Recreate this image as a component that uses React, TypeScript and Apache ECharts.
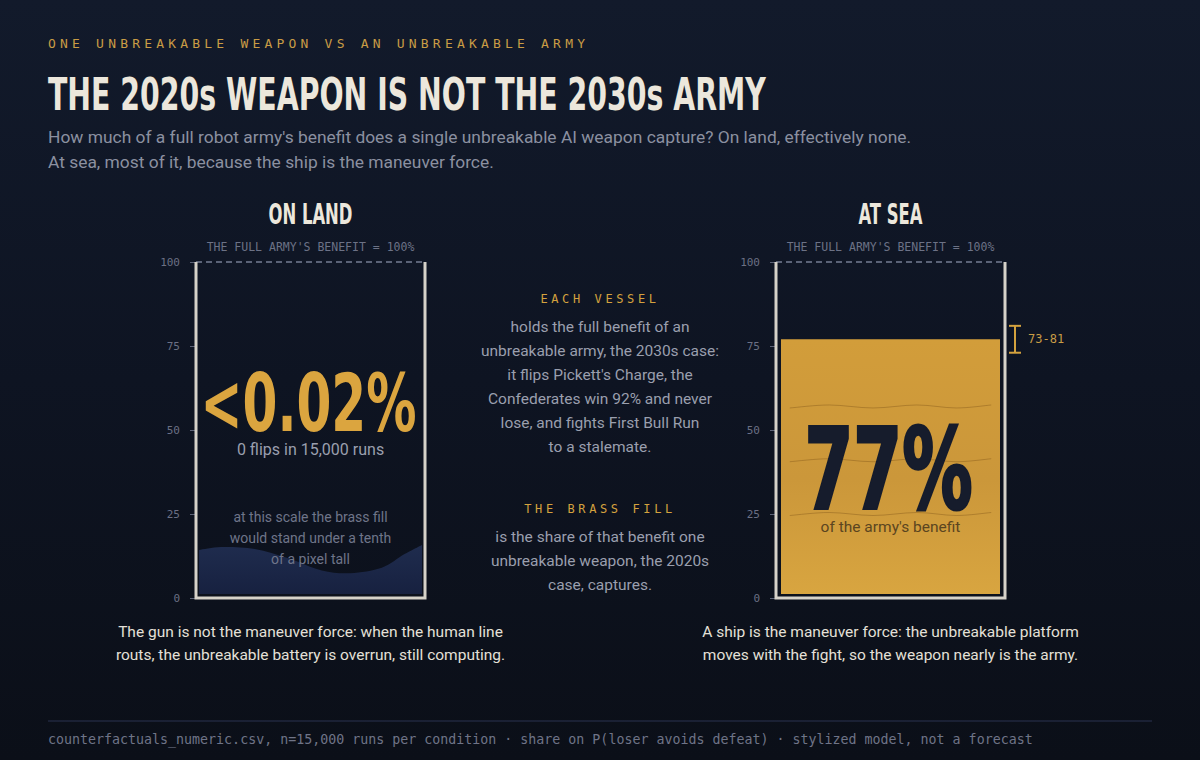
import React, { useEffect, useRef } from 'react';
import * as echarts from 'echarts';

// ---------- content & data ----------
const kicker = 'ONE UNBREAKABLE WEAPON VS AN UNBREAKABLE ARMY';
const headline = 'THE 2020s WEAPON IS NOT THE 2030s ARMY';
const standfirst = [
  "How much of a full robot army's benefit does a single unbreakable AI weapon capture? On land, effectively none.",
  'At sea, most of it, because the ship is the maneuver force.',
];
const theatres = ['ON LAND', 'AT SEA'];
const weaponShare = [0.02, 77]; // % of the full army's benefit captured by one unbreakable weapon
const seaShareRange = [73, 81]; // spread of the sea share across runs
const landFlips = 0;
const runsPerCondition = 15000;
const fullBenefit = 100;
const axisTicks = [0, 25, 50, 75, 100];
const captions = [
  ['The gun is not the maneuver force: when the human line', 'routs, the unbreakable battery is overrun, still computing.'],
  ['A ship is the maneuver force: the unbreakable platform', 'moves with the fight, so the weapon nearly is the army.'],
];
const landNote = ['at this scale the brass fill', 'would stand under a tenth', 'of a pixel tall'];
const vesselHead = 'EACH VESSEL';
const vesselLines = [
  'holds the full benefit of an',
  'unbreakable army, the 2030s case:',
  "it flips Pickett's Charge, the",
  'Confederates win 92% and never',
  'lose, and fights First Bull Run',
  'to a stalemate.',
];
const fillHead = 'THE BRASS FILL';
const fillLines = ['is the share of that benefit one', 'unbreakable weapon, the 2020s', 'case, captures.'];
// dark swell at the foot of the land vessel: [fraction of width, level]
const landSwell: [number, number][] = [
  [0.0, 14.3], [0.1, 15.2], [0.25, 14.6], [0.4, 11.8], [0.55, 8.2], [0.68, 7.4], [0.82, 9.0], [0.92, 13.0], [1.0, 15.8],
];
const seaRipples = [57, 41, 25];
const footnote = `counterfactuals_numeric.csv, n=${runsPerCondition.toLocaleString('en-US')} runs per condition · share on P(loser avoids defeat) · stylized model, not a forecast`;

// ---------- styling ----------
const MONO = "'DejaVu Sans Mono', 'Liberation Mono', monospace";
const SANS = "Roboto, 'Noto Sans', sans-serif";
const DISPLAY = "'Liberation Sans Narrow', 'DejaVu Sans Condensed', Roboto, sans-serif";
const CREAM = '#ece7dc';
const GOLD = '#d4a23e';
const GOLD_TEXT = '#c99c45';
const GREY = '#9a9fae';
const DIM = '#6c7286';

const spacedLabels: Record<string, number> = { [kicker]: 4.2, [vesselHead]: 3.6, [fillHead]: 3.6 };

let measureCtx: CanvasRenderingContext2D | null = null;
function fitX(text: string, weight: number, size: number, family: string, width: number) {
  if (!measureCtx) measureCtx = document.createElement('canvas').getContext('2d');
  if (!measureCtx) return 1;
  measureCtx.font = `${weight} ${size}px ${family}`;
  const w = measureCtx.measureText(text).width;
  return w > 0 ? width / w : 1;
}

type TxtOpts = { size: number; color: string; family?: string; weight?: number; align?: string; scaleX?: number; stroke?: string; lineWidth?: number };
function txt(text: string, x: number, y: number, o: TxtOpts) {
  const align = o.align ?? 'center';
  return {
    type: 'text',
    x,
    y,
    scaleX: o.scaleX ?? 1,
    silent: true,
    style: {
      text,
      fill: o.color,
      fontSize: o.size,
      fontFamily: o.family ?? SANS,
      fontWeight: o.weight ?? 400,
      align,
      verticalAlign: 'middle',
      textAlign: align,
      textVerticalAlign: 'middle',
      stroke: o.stroke,
      lineWidth: o.lineWidth ?? 0,
    },
  };
}

// smooth curve through points (Catmull-Rom turned into cubic Béziers)
function splineThrough(pts: number[][]): string {
  let d = '';
  for (let k = 0; k < pts.length - 1; k++) {
    const p0 = pts[Math.max(0, k - 1)];
    const p1 = pts[k];
    const p2 = pts[k + 1];
    const p3 = pts[Math.min(pts.length - 1, k + 2)];
    const c1 = [p1[0] + (p2[0] - p0[0]) / 6, p1[1] + (p2[1] - p0[1]) / 6];
    const c2 = [p2[0] - (p3[0] - p1[0]) / 6, p2[1] - (p3[1] - p1[1]) / 6];
    d += ` C ${c1[0]} ${c1[1]} ${c2[0]} ${c2[1]} ${p2[0]} ${p2[1]}`;
  }
  return d;
}

function buildOption() {
  const headScale = fitX(theatres[0], 700, 28, DISPLAY, 84);
  const titleScale = fitX(headline, 700, 45, DISPLAY, 718);
  const landNumScale = fitX(`<${weaponShare[0]}%`, 700, 80, DISPLAY, 216);
  const seaNumScale = fitX(`${weaponShare[1]}%`, 700, 112, DISPLAY, 168);

  const renderVessel = (i: number) => (_params: any, api: any) => {
    const [left, bottom] = api.coord([0, 0]);
    const [right, top] = api.coord([1, fullBenefit]);
    const cx = (left + right) / 2;
    const share = api.value(1) as number;
    const level = api.coord([0, share])[1];
    const kids: any[] = [];

    kids.push(txt(theatres[i], cx, top - 47, { size: 28, color: CREAM, family: DISPLAY, weight: 700, scaleX: headScale }));
    kids.push(txt(`THE FULL ARMY'S BENEFIT = ${fullBenefit}%`, cx, top - 15, { size: 11.5, color: DIM, family: MONO }));

    if (i === 0) {
      // dark swell along the floor of the land vessel
      const base = bottom - 4;
      const pts = landSwell.map(([f, v]) => {
        const p = api.coord([f, v]);
        return [left + 3 + f * (right - left - 6), p[1]];
      });
      const d = `M ${left + 3} ${base} L ${pts[0][0]} ${pts[0][1]}` + splineThrough(pts) + ` L ${right - 3} ${base} Z`;
      kids.push({
        type: 'path',
        shape: { pathData: d },
        style: {
          fill: new echarts.graphic.LinearGradient(0, 0, 0, 1, [
            { offset: 0, color: '#1f2c4e' },
            { offset: 1, color: '#172140' },
          ]),
        },
      });
      // the brass fill itself: 0.02 of 100, far below a pixel
      kids.push({
        type: 'rect',
        shape: { x: left + 5, y: level, width: right - left - 10, height: Math.max(0, bottom - 4 - level) },
        style: { fill: GOLD },
      });
      kids.push(txt(`<${share}%`, cx - 2, api.coord([0, 58])[1], { size: 80, color: '#dba53f', family: DISPLAY, weight: 700, scaleX: landNumScale }));
      kids.push(txt(`${landFlips} flips in ${runsPerCondition.toLocaleString('en-US')} runs`, cx, bottom - 149, { size: 16, color: GREY }));
      landNote.forEach((line, k) => kids.push(txt(line, cx, bottom - 81 + k * 21, { size: 14, color: '#6f7589' })));
    } else {
      const fx = left + 5;
      const fw = right - left - 10;
      kids.push({
        type: 'rect',
        shape: { x: fx, y: level, width: fw, height: bottom - 4 - level },
        style: {
          fill: new echarts.graphic.LinearGradient(0, 0, 0, 1, [
            { offset: 0, color: '#d29d3a' },
            { offset: 0.55, color: '#cb973a' },
            { offset: 1, color: '#d8a540' },
          ]),
        },
      });
      // faint ripples inside the brass
      seaRipples.forEach((v) => {
        const y = api.coord([0, v])[1];
        const pts = [0.04, 0.22, 0.42, 0.62, 0.8, 0.96].map((f, k) => [fx + f * fw, y + (k % 2 === 0 ? 1.5 : -1.5)]);
        kids.push({
          type: 'path',
          shape: { pathData: `M ${pts[0][0]} ${pts[0][1]}` + splineThrough(pts) },
          style: { fill: 'none', stroke: 'rgba(120,80,22,0.38)', lineWidth: 1 },
        });
      });
      // bright meniscus at the fill level
      kids.push({
        type: 'line',
        shape: { x1: fx, y1: level + 1, x2: fx + fw, y2: level + 1 },
        style: { stroke: '#f0c25a', lineWidth: 2.5, shadowBlur: 8, shadowColor: 'rgba(245,200,90,0.85)' },
      });
      kids.push(
        txt(`${share}%`, cx - 2, api.coord([0, share / 2])[1], {
          size: 112, color: '#161c2c', family: DISPLAY, weight: 700, scaleX: seaNumScale, stroke: '#161c2c', lineWidth: 3,
        })
      );
      kids.push(txt("of the army's benefit", cx, api.coord([0, 21])[1], { size: 15.5, color: '#5b4520' }));
    }

    // vessel rim at 100% and walls
    kids.push({
      type: 'line',
      shape: { x1: left, y1: top, x2: right, y2: top },
      style: { stroke: '#767d93', lineWidth: 1.5, lineDash: [6, 4] },
    });
    kids.push({
      type: 'polyline',
      shape: { points: [[left, top], [left, bottom], [right, bottom], [right, top]] },
      style: { fill: 'none', stroke: '#d6d2c9', lineWidth: 3, lineJoin: 'miter' },
    });

    captions[i].forEach((line, k) => kids.push(txt(line, cx, bottom + 34 + k * 23, { size: 15.5, color: '#e4e0d8' })));

    return { type: 'group', children: kids };
  };

  const renderRange = (_params: any, api: any) => {
    const lo = api.coord([api.value(0), api.value(1)]);
    const hi = api.coord([api.value(0), api.value(2)]);
    const x = lo[0] + 10;
    const stroke = { stroke: GOLD, lineWidth: 2 };
    return {
      type: 'group',
      children: [
        { type: 'line', shape: { x1: x, y1: hi[1], x2: x, y2: lo[1] }, style: stroke },
        { type: 'line', shape: { x1: x - 6, y1: hi[1], x2: x + 6, y2: hi[1] }, style: stroke },
        { type: 'line', shape: { x1: x - 6, y1: lo[1], x2: x + 6, y2: lo[1] }, style: stroke },
        txt(`${api.value(1)}-${api.value(2)}`, x + 13, (lo[1] + hi[1]) / 2, { size: 12, color: GOLD_TEXT, family: MONO, align: 'left' }),
      ],
    };
  };

  const grids = [
    { left: 196, top: 262, width: 229, height: 336 },
    { left: 776, top: 262, width: 229, height: 336 },
  ];

  const graphic: any[] = [
    {
      type: 'rect',
      z: -100,
      silent: true,
      shape: { x: 0, y: 0, width: 1200, height: 760 },
      style: {
        fill: new echarts.graphic.LinearGradient(0, 0, 0, 1, [
          { offset: 0, color: '#121a2b' },
          { offset: 0.5, color: '#0e1422' },
          { offset: 1, color: '#0b0f18' },
        ]),
      },
    },
    txt(kicker, 48, 43, { size: 13, color: GOLD_TEXT, family: MONO, align: 'left' }),
    txt(headline, 48, 94, { size: 45, color: CREAM, family: DISPLAY, weight: 700, align: 'left', scaleX: titleScale }),
    ...standfirst.map((line, k) => txt(line, 48, 137 + k * 25, { size: 17.4, color: '#8b90a0', align: 'left' })),
    txt(vesselHead, 600, 299, { size: 12, color: GOLD, family: MONO }),
    ...vesselLines.map((line, k) => txt(line, 600, 327 + k * 24, { size: 15.5, color: GREY })),
    txt(fillHead, 600, 509, { size: 12, color: GOLD, family: MONO }),
    ...fillLines.map((line, k) => txt(line, 600, 537 + k * 24, { size: 15.5, color: GREY })),
    { type: 'line', silent: true, shape: { x1: 48, y1: 721, x2: 1152, y2: 721 }, style: { stroke: '#2b3350', lineWidth: 1 } },
    txt(footnote, 48, 739, { size: 13.3, color: '#6f7487', family: MONO, align: 'left' }),
  ];

  return {
    animation: false,
    backgroundColor: '#0e1422',
    graphic: { elements: graphic },
    grid: grids,
    xAxis: grids.map((_, i) => ({ gridIndex: i, type: 'value', min: 0, max: 1, show: false })),
    yAxis: grids.map((_, i) => ({
      gridIndex: i,
      type: 'value',
      min: axisTicks[0],
      max: axisTicks[axisTicks.length - 1],
      interval: axisTicks[1] - axisTicks[0],
      axisLine: { show: false },
      axisTick: { show: true, length: 6, lineStyle: { color: '#5c6276', width: 1 } },
      axisLabel: { margin: 16, color: '#6b7084', fontFamily: MONO, fontSize: 11 },
      splitLine: { show: false },
    })),
    series: [
      ...theatres.map((_, i) => ({
        type: 'custom',
        name: theatres[i],
        xAxisIndex: i,
        yAxisIndex: i,
        clip: false,
        silent: true,
        encode: { x: 0, y: 1 },
        data: [[0, weaponShare[i]]],
        renderItem: renderVessel(i),
        z: 3,
      })),
      {
        type: 'custom',
        name: 'range',
        xAxisIndex: 1,
        yAxisIndex: 1,
        clip: false,
        silent: true,
        encode: { x: 0, y: [1, 2] },
        data: [[1, seaShareRange[0], seaShareRange[1]]],
        renderItem: renderRange,
        z: 4,
      },
    ],
  };
}

export default function App() {
  const ref = useRef<HTMLDivElement>(null);

  useEffect(() => {
    if (!ref.current) return;
    const chart = echarts.init(ref.current, undefined, { renderer: 'svg' });
    // tracked (letter-spaced) monospace labels
    const applySpacing = () => {
      ref.current?.querySelectorAll('text').forEach((t) => {
        const s = spacedLabels[t.textContent ?? ''];
        if (s) t.setAttribute('letter-spacing', String(s));
      });
    };
    chart.on('finished', applySpacing);
    chart.setOption(buildOption() as any);
    applySpacing();
    const raf = requestAnimationFrame(applySpacing);
    return () => {
      cancelAnimationFrame(raf);
      chart.dispose();
    };
  }, []);

  return <div ref={ref} style={{ position: 'fixed', left: 0, top: 0, width: 1200, height: 760 }} />;
}
